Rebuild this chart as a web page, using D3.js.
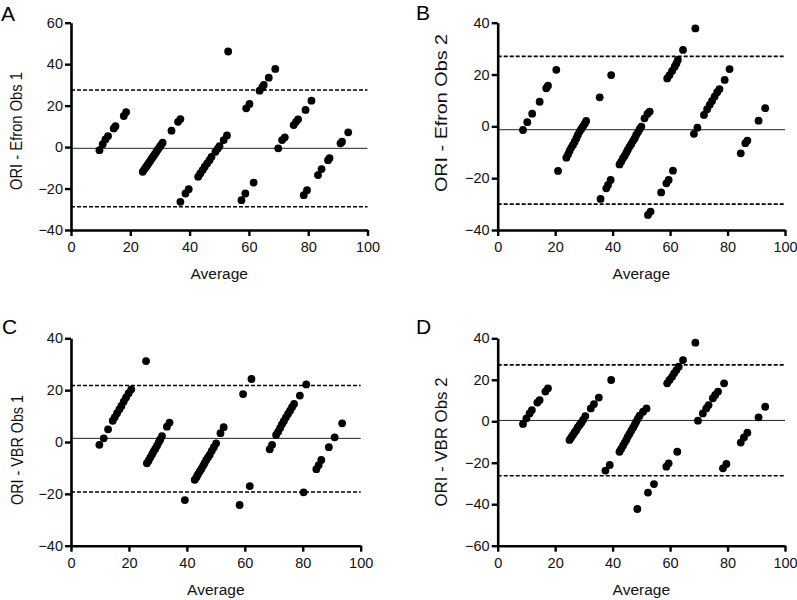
<!DOCTYPE html>
<html><head><meta charset="utf-8">
<script src="https://cdn.jsdelivr.net/npm/d3@7"></script>
<style>
body{margin:0;background:#fff;}
svg{display:block;font-family:"Liberation Sans",Arial,Helvetica,sans-serif;}
</style></head>
<body><svg id="c" width="797" height="600"></svg>
<script>
const xTicks = [0,20,40,60,80,100];
const yTicksA = [-40,-20,0,20,40,60];
const yTicksB = [-40,-20,0,20,40];
const yTicksC = [-40,-20,0,20,40];
const yTicksD = [-60,-40,-20,0,20,40];

const labels = ["A","B","C","D"];
const yTitles = ["ORI - Efron Obs 1","ORI - Efron Obs 2","ORI - VBR Obs 1","ORI - VBR Obs 2"];
const xTitle = "Average";

// [bias, upper limit, lower limit]
const limitsA = [-0.6, 27.5, -28.8];
const limitsB = [-1.3, 27.0, -30.0];
const limitsC = [1.4, 21.8, -19.3];
const limitsD = [0.4, 27.2, -26.3];

// [average, difference]
const pointsA = [[9.6,-1.5],[10.7,1.4],[11.6,3.7],[12.5,5.3],[14.4,9.0],[15.0,10.1],[17.8,15.0],[18.6,16.9],
[24.2,-11.9],[24.8,-10.6],[25.3,-9.6],[25.8,-8.6],[26.3,-7.5],[26.8,-6.5],[27.3,-5.4],[27.8,-4.4],[28.3,-3.3],[28.8,-2.3],[29.3,-1.2],[29.8,-0.2],[30.3,0.9],[30.9,2.1],
[33.9,7.9],[36.1,12.2],[36.9,13.5],
[36.9,-26.4],[38.6,-22.4],[39.7,-20.3],
[42.9,-14.3],[43.6,-12.7],[44.4,-11.1],[45.1,-9.5],[45.9,-7.9],[46.7,-6.3],[47.4,-4.7],[48.7,-2.3],[49.5,-0.7],[50.1,0.5],[51.5,3.4],[52.6,5.6],
[53.0,46.1],
[59.1,18.7],[60.2,20.8],[63.6,27.2],[64.5,28.8],[65.0,30.0],[66.7,33.5],[68.9,37.7],
[57.5,-25.6],[58.8,-22.4],[61.6,-17.1],
[69.9,-0.6],[71.2,3.4],[72.1,4.7],[75.1,10.6],[75.9,12.2],[76.6,13.4],[79.1,17.9],[81.1,22.4],
[78.5,-23.2],[79.6,-20.8],
[83.3,-13.5],[84.5,-10.6],[86.7,-6.3],[87.2,-5.3],[90.9,1.8],[91.4,2.6],[93.5,7.1]];

const pointsB = [[8.8,-1.4],[10.3,1.6],[12.0,4.9],[14.6,9.5],[16.9,14.7],[17.5,15.7],[20.4,21.8],
[21.0,-17.2],
[23.9,-12.1],[24.5,-10.8],[25.0,-9.5],[25.6,-8.2],[26.2,-7.2],[26.8,-5.9],[27.4,-4.6],[27.9,-3.3],[28.5,-2.0],[29.1,-1.0],[29.7,0.0],[30.3,1.0],[30.8,2.1],
[35.5,11.2],[39.5,19.8],
[35.8,-28.0],[37.8,-23.9],[38.4,-22.6],[39.3,-20.7],
[42.4,-14.7],[43.0,-13.6],[43.6,-12.3],[44.2,-11.3],[44.8,-10.1],[45.3,-9.0],[45.9,-7.8],[46.5,-6.8],[47.1,-5.6],[47.7,-4.6],[48.2,-3.3],[48.8,-2.3],[49.4,-1.1],[50.0,-0.1],[51.1,3.1],[52.1,4.8],[52.9,5.7],
[52.3,-34.2],[53.2,-32.9],
[56.9,-25.5],[58.7,-22.0],[59.5,-20.7],[61.0,-17.1],
[59.0,18.5],[59.8,19.8],[60.7,21.4],[61.6,23.0],[62.2,24.3],[62.7,25.6],[64.5,29.5],[68.8,37.8],
[68.3,-2.9],[69.5,-0.5],[71.8,4.4],[72.9,6.6],[73.8,8.3],[74.6,9.8],[75.5,11.5],[76.4,13.2],[77.2,14.4],[79.0,17.9],[80.7,22.1],
[84.6,-10.4],[86.2,-6.5],[86.9,-5.5],[90.8,2.2],[93.1,7.0]];

const pointsC = [[9.8,-1.1],[11.3,1.4],[12.8,4.9],[14.4,8.2],[15.1,9.5],[15.9,11.1],[16.7,12.6],[17.4,13.9],[18.2,15.6],[19.0,17.2],[19.9,18.8],[20.8,20.3],
[25.9,31.2],
[26.2,-8.2],[26.8,-7.2],[27.4,-5.9],[28.0,-4.7],[28.5,-3.7],[29.1,-2.6],[29.7,-1.4],[30.3,-0.1],[30.8,1.0],[31.4,2.3],[33.1,5.9],[34.0,7.5],
[39.3,-22.4],
[42.7,-14.6],[43.3,-13.6],[43.8,-12.5],[44.4,-11.4],[45.0,-10.4],[45.6,-9.2],[46.1,-8.2],[46.7,-6.9],[47.3,-5.9],[47.9,-4.9],[48.6,-3.4],[49.3,-2.0],[50.1,-0.5],[51.6,3.4],[52.7,5.7],
[58.2,-24.3],[61.7,-17.0],[59.4,18.5],[62.3,24.3],
[68.6,-2.8],[69.4,-1.1],[70.8,2.7],[71.5,4.0],[72.2,5.4],[72.8,6.8],[73.5,8.1],[74.2,9.5],[74.9,10.8],[75.6,12.1],[76.3,13.4],[77.0,14.7],[79.0,17.9],[81.2,22.2],
[80.3,-19.4],
[84.7,-10.5],[85.5,-8.9],[86.4,-6.9],[89.0,-2.0],[91.0,1.8],[93.6,7.2]];

const pointsD = [[8.8,-1.3],[10.0,1.4],[11.1,3.8],[11.9,5.4],[13.8,9.0],[14.6,10.2],[16.6,14.3],[17.5,15.9],
[25.0,-9.0],[25.6,-7.8],[26.2,-6.6],[26.8,-5.3],[27.4,-4.2],[27.9,-2.9],[28.5,-1.8],[29.1,-0.7],[29.7,0.6],[30.5,2.5],[32.4,6.2],[33.5,8.3],[35.2,11.4],[39.5,19.9],
[37.5,-23.8],[39.0,-21.1],
[42.4,-14.7],[43.0,-13.2],[43.6,-11.8],[44.2,-10.3],[44.8,-8.9],[45.3,-7.4],[45.9,-6.0],[46.5,-4.5],[47.1,-3.1],[47.7,-1.6],[48.2,-0.2],[48.8,1.2],[49.4,2.7],[50.6,4.6],[51.8,6.2],
[48.6,-42.3],[52.3,-34.4],[54.4,-30.3],[58.7,-21.9],[59.5,-20.3],[62.5,-14.7],
[59.0,18.3],[59.8,19.9],[60.7,21.5],[61.4,23.1],[62.2,24.7],[63.0,26.3],[64.5,29.5],[68.8,37.9],
[69.7,0.3],[71.4,3.8],[72.6,6.2],[73.4,7.8],[74.9,11.1],[75.7,12.7],[76.7,14.3],[78.8,18.3],
[78.4,-22.7],[79.6,-20.6],
[84.6,-10.3],[85.7,-7.8],[86.9,-5.5],[90.8,1.9],[93.1,7.0]];

const panels = [
  {pts: pointsA, lim: limitsA, yt: yTicksA, x0: 71, x1: 367.5, yT: 22.7, yB: 230, lx: 1, ly: 21, tx: 22, ty: 131, tl: 118},
  {pts: pointsB, lim: limitsB, yt: yTicksB, x0: 497.7, x1: 785, yT: 22.7, yB: 230, lx: 416, ly: 20, tx: 447, ty: 113, tl: 158},
  {pts: pointsC, lim: limitsC, yt: yTicksC, x0: 71, x1: 360.7, yT: 338.3, yB: 545.7, lx: 2, ly: 334, tx: 23, ty: 450, tl: 110},
  {pts: pointsD, lim: limitsD, yt: yTicksD, x0: 497.7, x1: 785, yT: 338.3, yB: 545.7, lx: 416, ly: 334, tx: 447, ty: 442, tl: 129}
];

const svg = d3.select("#c");
const ink = "#111";

panels.forEach((p, i) => {
  const x = d3.scaleLinear().domain([0,100]).range([p.x0, p.x1]);
  const y = d3.scaleLinear().domain(d3.extent(p.yt)).range([p.yB, p.yT]);
  const g = svg.append("g");

  // bias and limits
  g.append("line").attr("x1", x(0)).attr("x2", x(100)).attr("y1", y(p.lim[0])).attr("y2", y(p.lim[0]))
    .attr("stroke", "#222").attr("stroke-width", 1);
  [p.lim[1], p.lim[2]].forEach(v => {
    g.append("line").attr("x1", x(0)).attr("x2", x(100)).attr("y1", y(v)).attr("y2", y(v))
      .attr("stroke", "#000").attr("stroke-width", 1.6).attr("stroke-dasharray", "4,2");
  });

  // points
  g.selectAll("circle.pt").data(p.pts).enter().append("circle")
    .attr("class","pt").attr("cx", d => x(d[0])).attr("cy", d => y(d[1])).attr("r", 3.9).attr("fill", "#000");

  // axes
  const ax = g.append("g").attr("transform", `translate(0,${p.yB})`)
    .call(d3.axisBottom(x).tickValues(xTicks).tickSize(6).tickSizeOuter(0).tickPadding(6));
  const ay = g.append("g").attr("transform", `translate(${p.x0},0)`)
    .call(d3.axisLeft(y).tickValues(p.yt).tickSize(6).tickSizeOuter(0).tickPadding(2));
  [ax, ay].forEach(a => {
    a.select(".domain").attr("stroke", "#000").attr("stroke-width", 2.6);
    a.selectAll(".tick line").attr("stroke", "#000").attr("stroke-width", 2.4);
    a.selectAll(".tick text").attr("fill", ink).style("font-size", "14.5px")
      .style("font-family", "'Liberation Sans', Arial, sans-serif");
  });

  // x title
  g.append("text").attr("x", (p.x0 + p.x1) / 2).attr("y", p.yB + 49).attr("text-anchor", "middle")
    .attr("fill", ink).style("font-size", "15.5px").text(xTitle);
  // y title
  g.append("text").attr("transform", `translate(${p.tx},${p.ty}) rotate(-90)`).attr("text-anchor", "middle")
    .attr("fill", ink).style("font-size", "16.5px")
    .attr("textLength", p.tl).attr("lengthAdjust", "spacingAndGlyphs").text(yTitles[i]);
  // panel label
  g.append("text").attr("x", p.lx).attr("y", p.ly).attr("fill", "#000").style("font-size", "21px").text(labels[i]);
});
</script>
</body></html>
